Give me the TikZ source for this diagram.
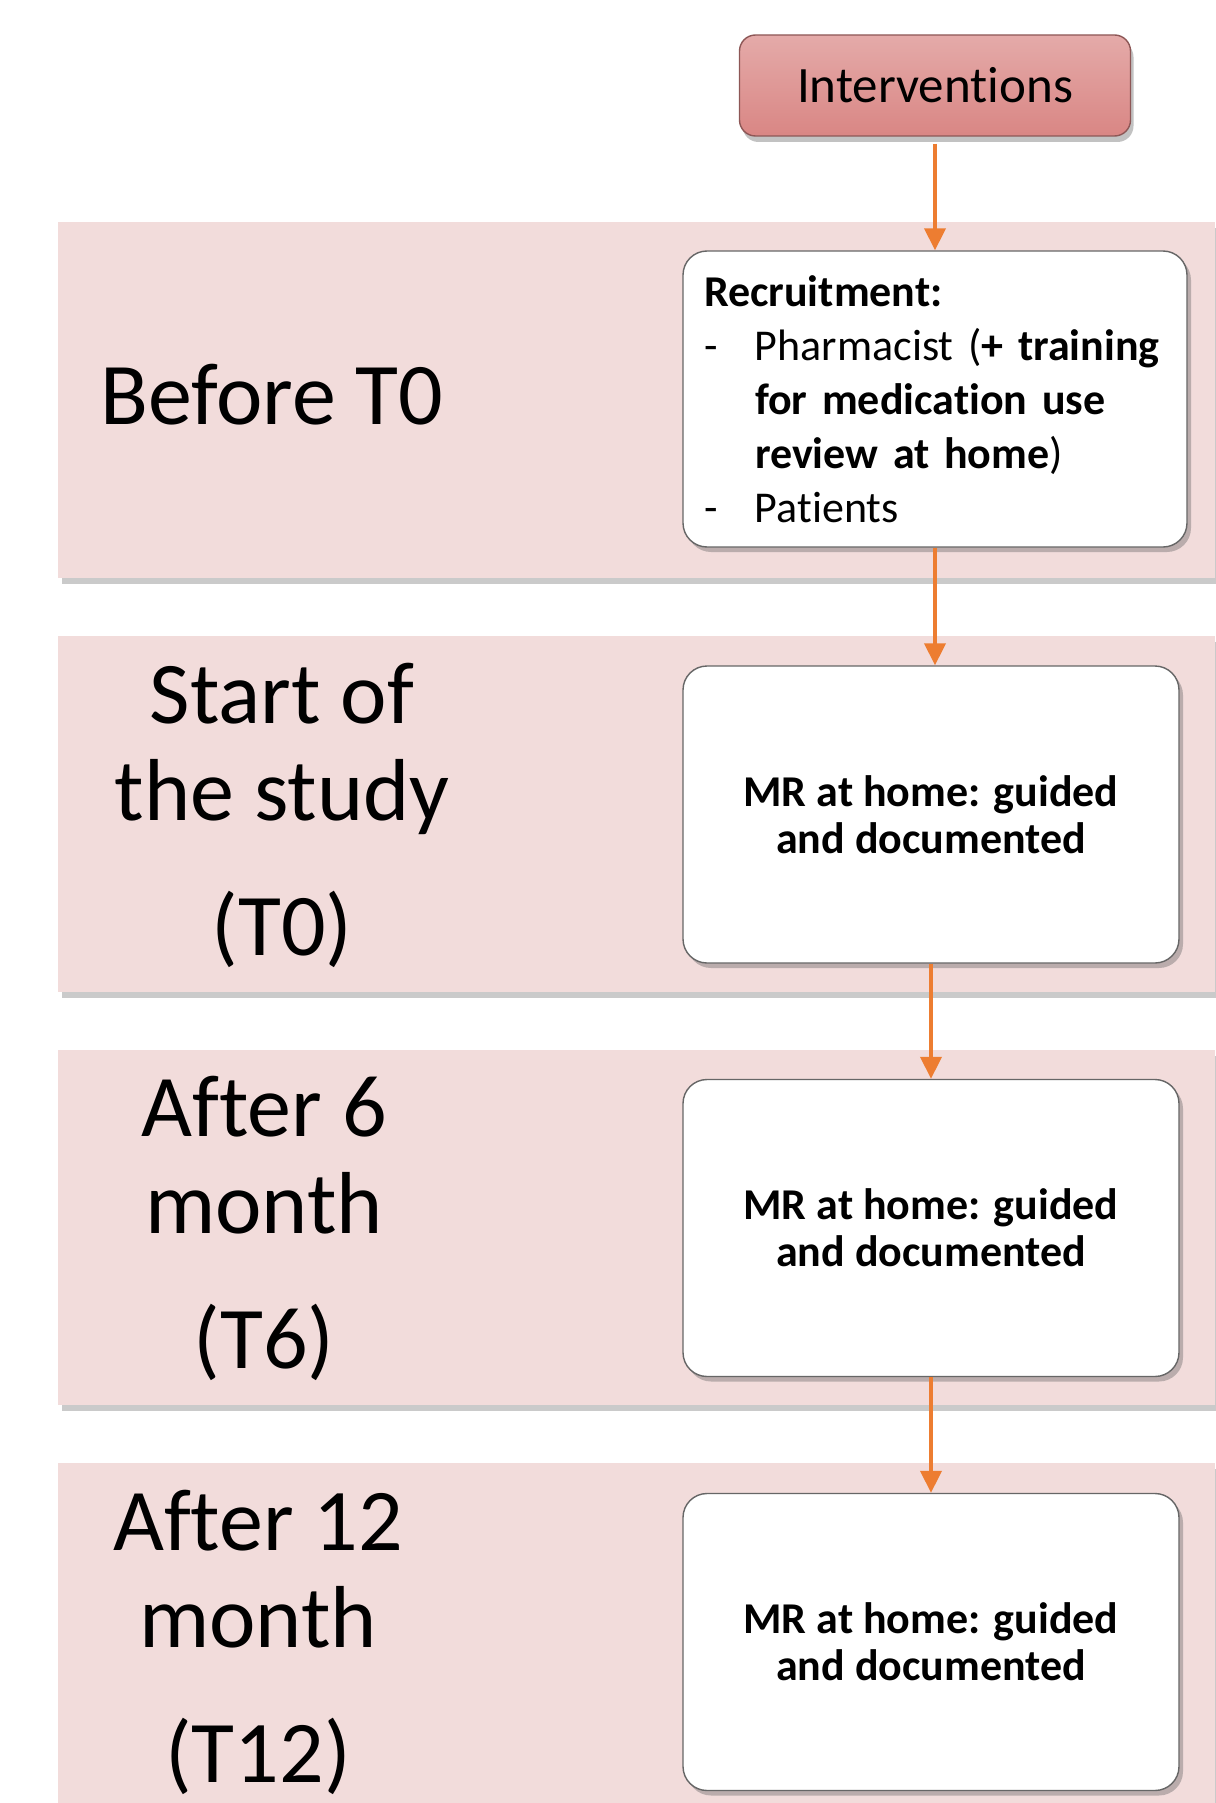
\documentclass[tikz,border=0pt]{standalone}
\usepackage{fontspec}
\setmainfont{Carlito}[Ligatures={NoCommon,NoContextual}]
\usetikzlibrary{arrows.meta,shadows}

\definecolor{bandpink}{RGB}{242,220,219}
\definecolor{intervred}{RGB}{217,134,132}
\definecolor{floworange}{RGB}{237,125,49}

\begin{document}
\begin{tikzpicture}[x=0.5pt,y=-0.5pt,
  band/.style={fill=bandpink, drop shadow={shadow xshift=2pt, shadow yshift=-3pt, opacity=0.35, fill=black!60}},
  phase/.style={inner sep=0pt, align=center, font=\fontsize{44}{48.5}\selectfont},
  stepbox/.style={draw=black!60, line width=0.7pt, fill=white, rounded corners=12pt,
    drop shadow={shadow xshift=2pt, shadow yshift=-2.5pt, opacity=0.4, fill=black!60}},
  mrbox/.style={stepbox, minimum width=248pt, minimum height=148.5pt, align=center,
    font=\bfseries\fontsize{22}{23.5}\selectfont},
  flow/.style={draw=floworange, line width=2pt, -{Triangle[width=10.5pt,length=11pt]}}
]
  \useasboundingbox (0,0) rectangle (1215,1803);

  % bands
  \fill[band] (58,222) rectangle (1215,578);
  \fill[band] (58,636) rectangle (1215,992);
  \fill[band] (58,1050) rectangle (1215,1405);
  \fill[band] (58,1463) rectangle (1215,1830);

  % phase labels (base = last line)
  \node[phase, anchor=base west] (before) at (100,424) {Before T0};
  \node[phase, anchor=base] (start) at (282,955) {Start of\\the study\\[19pt](T0)};
  \node[phase, anchor=base] (six) at (264,1368) {After 6\\month\\[19pt](T6)};
  \node[phase, anchor=base] (twelve) at (258,1782) {After 12\\month\\[19pt](T12)};

  % top box
  \node[draw=intervred!65!black, line width=0.7pt, rounded corners=8pt,
    top color=intervred!70!white, bottom color=intervred,
    minimum width=195.5pt, minimum height=50.5pt, font=\fontsize{25.5}{30}\selectfont,
    drop shadow={shadow xshift=1.5pt, shadow yshift=-3pt, opacity=0.4, fill=black!60}]
    (interv) at (935,85.5) {Interventions};

  % recruitment
  \node[stepbox, minimum width=252pt, minimum height=148pt, text width=231pt,
    inner xsep=10.5pt, align=left, font=\fontsize{22}{27}\selectfont]
    (recruit) at (935,399) {\textbf{Recruitment:}\\
    \makebox[25.5pt][l]{-}Pharmacist (\textbf{+ training}\\
    \hspace*{25.5pt}\textbf{for medication use}\\
    \hspace*{25.5pt}\textbf{review at home})\\
    \makebox[25.5pt][l]{-}Patients};

  % MR visits
  \node[mrbox] (mr1) at (931,814.5) {MR at home: guided\\and documented};
  \node[mrbox] (mr2) at (931,1228) {MR at home: guided\\and documented};
  \node[mrbox] (mr3) at (931,1642) {MR at home: guided\\and documented};

  % arrows
  \draw[flow, shorten <=3.5pt] (interv) -- (recruit);
  \draw[flow] (recruit.south) -- (recruit.south |- mr1.north);
  \draw[flow] (mr1) -- (mr2);
  \draw[flow] (mr2) -- (mr3);

\end{tikzpicture}
\end{document}
